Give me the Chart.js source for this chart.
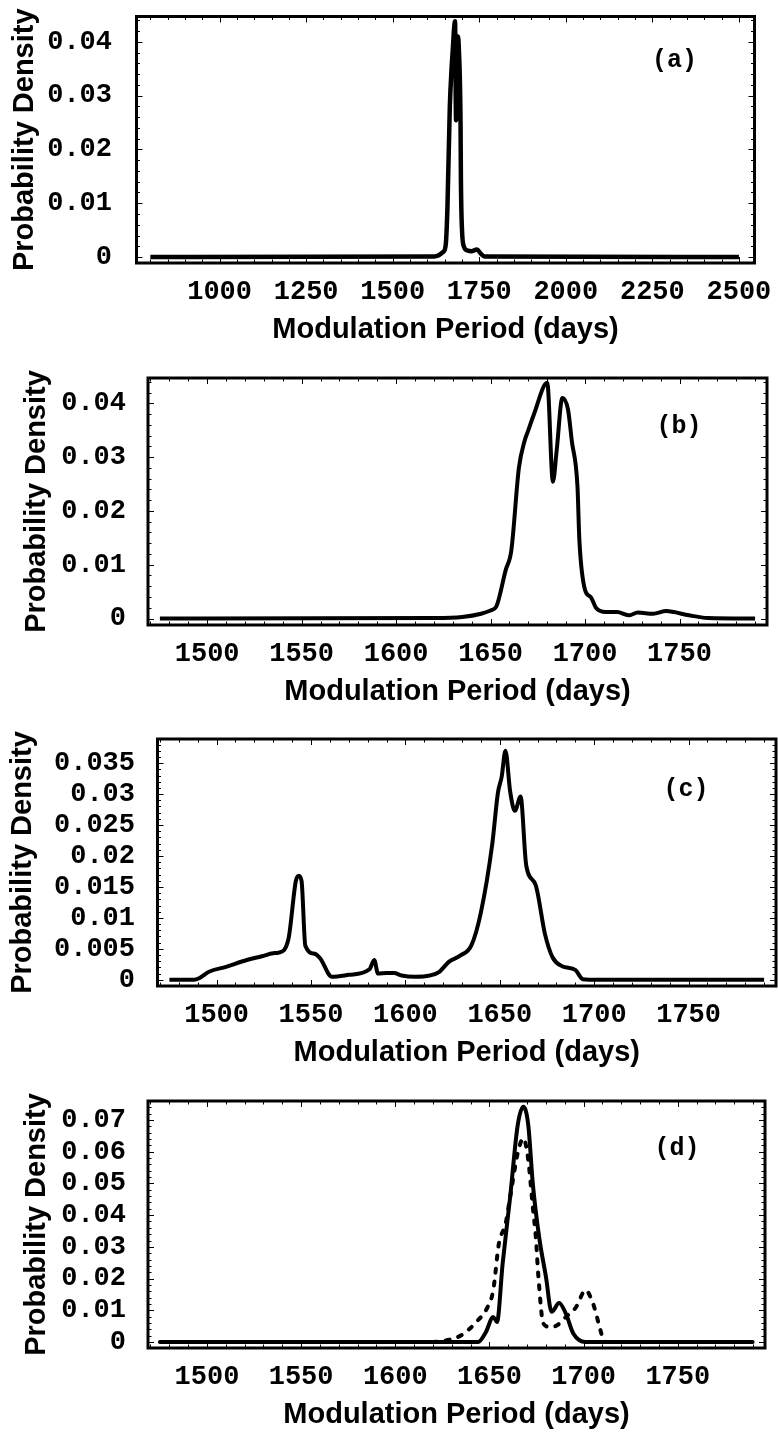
<!DOCTYPE html>
<html>
<head>
<meta charset="utf-8">
<script src="https://cdn.jsdelivr.net/npm/chart.js@4"></script>
<style>
  html, body { margin: 0; padding: 0; background: #fff; }
  body { width: 778px; height: 1432px; position: relative; overflow: hidden; }
  canvas { position: absolute; left: 0; }
</style>
</head>
<body>
<canvas id="panel-a" width="778" height="358" style="top:0px"></canvas>
<canvas id="panel-b" width="778" height="358" style="top:361px"></canvas>
<canvas id="panel-c" width="778" height="358" style="top:722px"></canvas>
<canvas id="panel-d" width="778" height="348" style="top:1084px"></canvas>
<script>
// (a) wide range
var aPeriod  = [800, 1620, 1645, 1653, 1658, 1665, 1670, 1673, 1680, 1683, 1685, 1688, 1691, 1696, 1697, 1700, 1706, 1717, 1728, 1743, 1755, 1765, 2500];
var aDensity = [0, 0.0001, 0.0009, 0.0022, 0.009, 0.028, 0.035, 0.038, 0.0438, 0.0254, 0.0313, 0.041, 0.0388, 0.0245, 0.0146, 0.0053, 0.0019, 0.0012, 0.0011, 0.0014, 0.0006, 0.0001, 0];

// (b)
var bPeriod  = [1475, 1620, 1635, 1645, 1650, 1653, 1658, 1661, 1665, 1668, 1670, 1673, 1680, 1683, 1685, 1688, 1691, 1693, 1696, 1697, 1700, 1703, 1706, 1711, 1717, 1723, 1728, 1736, 1743, 1747, 1755, 1765, 1790];
var bDensity = [0, 0.0001, 0.0003, 0.0009, 0.0015, 0.0022, 0.009, 0.0127, 0.028, 0.033, 0.035, 0.038, 0.0438, 0.0254, 0.0313, 0.041, 0.0388, 0.033, 0.0245, 0.0146, 0.0053, 0.004, 0.0019, 0.0012, 0.0012, 0.0006, 0.0011, 0.0009, 0.0014, 0.0012, 0.0006, 0.0001, 0];

// (c)
var cPeriod  = [1475, 1488, 1491, 1496, 1505, 1516, 1524, 1530, 1533, 1538, 1542, 1543.5, 1545, 1547, 1552, 1555, 1561, 1570, 1581, 1583.5, 1585.5, 1590, 1594, 1598, 1605, 1613, 1618, 1623, 1629, 1635, 1640, 1646, 1649, 1651, 1653, 1655.5, 1658, 1661, 1664, 1669, 1674, 1678, 1683, 1690, 1694, 1702, 1790];
var cDensity = [0, 0, 0.0003, 0.0013, 0.0021, 0.0032, 0.0038, 0.0043, 0.0044, 0.0065, 0.016, 0.0168, 0.016, 0.0055, 0.0042, 0.0034, 0.0005, 0.0008, 0.0017, 0.0032, 0.001, 0.0011, 0.0011, 0.0007, 0.0005, 0.0007, 0.0013, 0.0029, 0.0039, 0.0056, 0.0109, 0.0219, 0.0302, 0.0328, 0.037, 0.0304, 0.0273, 0.0296, 0.0185, 0.0153, 0.0073, 0.0036, 0.0022, 0.0016, 0.0001, 0, 0];

// (d) solid and dashed
var dPeriod = [1475, 1644, 1648, 1652, 1654, 1657, 1661, 1665, 1668, 1670.6, 1673, 1676.5, 1680, 1683, 1687, 1690.6, 1694.6, 1701, 1790];
var dSolid  = [0, 0, 0.003, 0.0079, 0.0063, 0.0247, 0.0458, 0.0684, 0.0742, 0.0684, 0.05, 0.0326, 0.0205, 0.0095, 0.0123, 0.0089, 0.0026, 0, 0];
var dDashPeriod = [1475, 1620, 1627, 1635, 1643, 1649, 1652, 1655, 1658.6, 1661, 1665, 1668, 1670.6, 1673, 1674.6, 1676, 1678.6, 1682.6, 1686, 1690.6, 1696, 1701, 1705, 1708, 1710, 1712, 1790];
var dDashed     = [0, 0, 0.0005, 0.0021, 0.0063, 0.011, 0.0163, 0.031, 0.0374, 0.0458, 0.0595, 0.0642, 0.0574, 0.0426, 0.0332, 0.0205, 0.0058, 0.0047, 0.0053, 0.0079, 0.011, 0.0163, 0.0121, 0.0058, 0.0016, 0, 0];

// tick labels
var wideXTicks = [1000, 1250, 1500, 1750, 2000, 2250, 2500];
var zoomXTicks = [1500, 1550, 1600, 1650, 1700, 1750];
var abYTicks = [0, 0.01, 0.02, 0.03, 0.04];
var cYTicks = [0, 0.005, 0.01, 0.015, 0.02, 0.025, 0.03, 0.035];
var dYTicks = [0, 0.01, 0.02, 0.03, 0.04, 0.05, 0.06, 0.07];

var W = 778;
var tickFont = { family: 'Liberation Mono', weight: 'bold', size: 27 };
var titleFont = { family: 'Liberation Sans', weight: 'bold', size: 29 };
var halfTitle = 29 * 1.2 / 2;

// frame box with inward ticks on all four sides + panel letter
var framePlugin = {
  id: 'frame',
  afterDraw: function(chart, args, opts) {
    var ctx = chart.ctx, a = chart.chartArea, x = chart.scales.x, y = chart.scales.y;
    ctx.save();
    ctx.strokeStyle = '#000';
    ctx.lineWidth = 1;
    function seg(x1, y1, x2, y2) { ctx.beginPath(); ctx.moveTo(x1, y1); ctx.lineTo(x2, y2); ctx.stroke(); }
    function each(min, max, step, major, fn) {
      for (var k = Math.ceil(min / step - 1e-9); k * step <= max + 1e-9; k++) {
        var v = k * step, r = v / major;
        fn(v, Math.abs(r - Math.round(r)) < 1e-6 ? 6 : 3.5);
      }
    }
    each(x.min, x.max, opts.xMinor, opts.xMajor, function(v, len) {
      var px = Math.round(x.getPixelForValue(v)) + 0.5;
      seg(px, a.bottom, px, a.bottom - len);
      seg(px, a.top, px, a.top + len);
    });
    each(y.min, y.max, opts.yMinor, opts.yMajor, function(v, len) {
      var py = Math.round(y.getPixelForValue(v)) + 0.5;
      seg(a.left, py, a.left + len, py);
      seg(a.right, py, a.right - len, py);
    });
    ctx.lineWidth = 3;
    ctx.strokeRect(a.left, a.top, a.right - a.left, a.bottom - a.top);
    ctx.fillStyle = '#000';
    ctx.font = 'bold 25px "Liberation Mono"';
    ctx.textAlign = 'center';
    ctx.textBaseline = 'middle';
    ctx.fillText(opts.letter, a.right - opts.dx, a.top + opts.dy);
    ctx.restore();
  }
};

function series(xs, ys, width, dash) {
  return {
    data: xs.map(function(v, i) { return { x: v, y: ys[i] }; }),
    borderColor: '#000',
    borderWidth: width,
    borderDash: dash || [],
    borderCapStyle: dash ? 'round' : 'butt',
    borderJoinStyle: 'round',
    pointRadius: 0,
    fill: false,
    cubicInterpolationMode: 'monotone'
  };
}

function makePanel(p) {
  return new Chart(document.getElementById(p.id), {
    type: 'line',
    data: { datasets: p.datasets },
    options: {
      responsive: false,
      animation: false,
      devicePixelRatio: 1,
      layout: { padding: { left: 0, right: W - p.frame.r, top: p.frame.t, bottom: 0 } },
      plugins: {
        legend: { display: false },
        tooltip: { enabled: false },
        frame: p.marks
      },
      scales: {
        x: {
          type: 'linear',
          min: p.xMin, max: p.xMax,
          grid: { display: false },
          border: { display: false },
          afterBuildTicks: function(s) { s.ticks = p.xTicks.map(function(v) { return { value: v }; }); },
          afterFit: function(s) { s.height = p.h - p.frame.b; s.paddingLeft = 0; s.paddingRight = 0; },
          ticks: { autoSkip: false, maxRotation: 0, padding: 5, color: '#000', font: tickFont,
                   callback: function(v) { return String(v); } },
          title: { display: true, text: 'Modulation Period (days)', color: '#000', font: titleFont,
                   padding: { top: 0, bottom: p.h - halfTitle - p.xTitleY } }
        },
        y: {
          type: 'linear',
          min: p.yMin, max: p.yMax,
          grid: { display: false },
          border: { display: false },
          afterBuildTicks: function(s) { s.ticks = p.yTicks.map(function(v) { return { value: v }; }); },
          afterFit: function(s) { s.width = p.frame.l; s.paddingTop = 0; s.paddingBottom = 0; },
          ticks: { autoSkip: false, padding: p.yLabelGap, color: '#000', font: tickFont,
                   callback: function(v) { return String(v); } },
          title: { display: true, text: 'Probability Density', color: '#000', font: titleFont,
                   padding: { top: p.yTitleX - halfTitle, bottom: 0 } }
        }
      }
    },
    plugins: [framePlugin]
  });
}

makePanel({
  id: 'panel-a', h: 358,
  frame: { l: 136.5, r: 754.5, t: 16.5, b: 263 },
  xMin: 760, xMax: 2545, yMin: -0.0011, yMax: 0.0447,
  xTicks: wideXTicks, yTicks: abYTicks,
  yTitleX: 25, yLabelGap: 16.5, xTitleY: 330,
  marks: { letter: '(a)', dx: 80, dy: 44.5, xMajor: 250, xMinor: 50, yMajor: 0.01, yMinor: 0.002 },
  datasets: [series(aPeriod, aDensity, 4.5)]
});

makePanel({
  id: 'panel-b', h: 358,
  frame: { l: 148, r: 767, t: 17, b: 264 },
  xMin: 1468.7, xMax: 1796.3, yMin: -0.0012, yMax: 0.0447,
  xTicks: zoomXTicks, yTicks: abYTicks,
  yTitleX: 37, yLabelGap: 14, xTitleY: 331,
  marks: { letter: '(b)', dx: 88, dy: 49, xMajor: 50, xMinor: 10, yMajor: 0.01, yMinor: 0.002 },
  datasets: [series(bPeriod, bDensity, 4)]
});

makePanel({
  id: 'panel-c', h: 358,
  frame: { l: 157.5, r: 776, t: 17, b: 264 },
  xMin: 1468.7, xMax: 1796.3, yMin: -0.001, yMax: 0.0389,
  xTicks: zoomXTicks, yTicks: cYTicks,
  yTitleX: 23, yLabelGap: 14.5, xTitleY: 331,
  marks: { letter: '(c)', dx: 90, dy: 51, xMajor: 50, xMinor: 10, yMajor: 0.005, yMinor: 0.001 },
  datasets: [series(cPeriod, cDensity, 4)]
});

makePanel({
  id: 'panel-d', h: 348,
  frame: { l: 148, r: 765, t: 17, b: 264 },
  xMin: 1468.7, xMax: 1796.3, yMin: -0.0019, yMax: 0.076,
  xTicks: zoomXTicks, yTicks: dYTicks,
  yTitleX: 37, yLabelGap: 14, xTitleY: 331,
  marks: { letter: '(d)', dx: 88, dy: 48, xMajor: 50, xMinor: 10, yMajor: 0.01, yMinor: 0.002 },
  datasets: [series(dPeriod, dSolid, 4), series(dDashPeriod, dDashed, 4, [4, 9])]
});
</script>
</body>
</html>
